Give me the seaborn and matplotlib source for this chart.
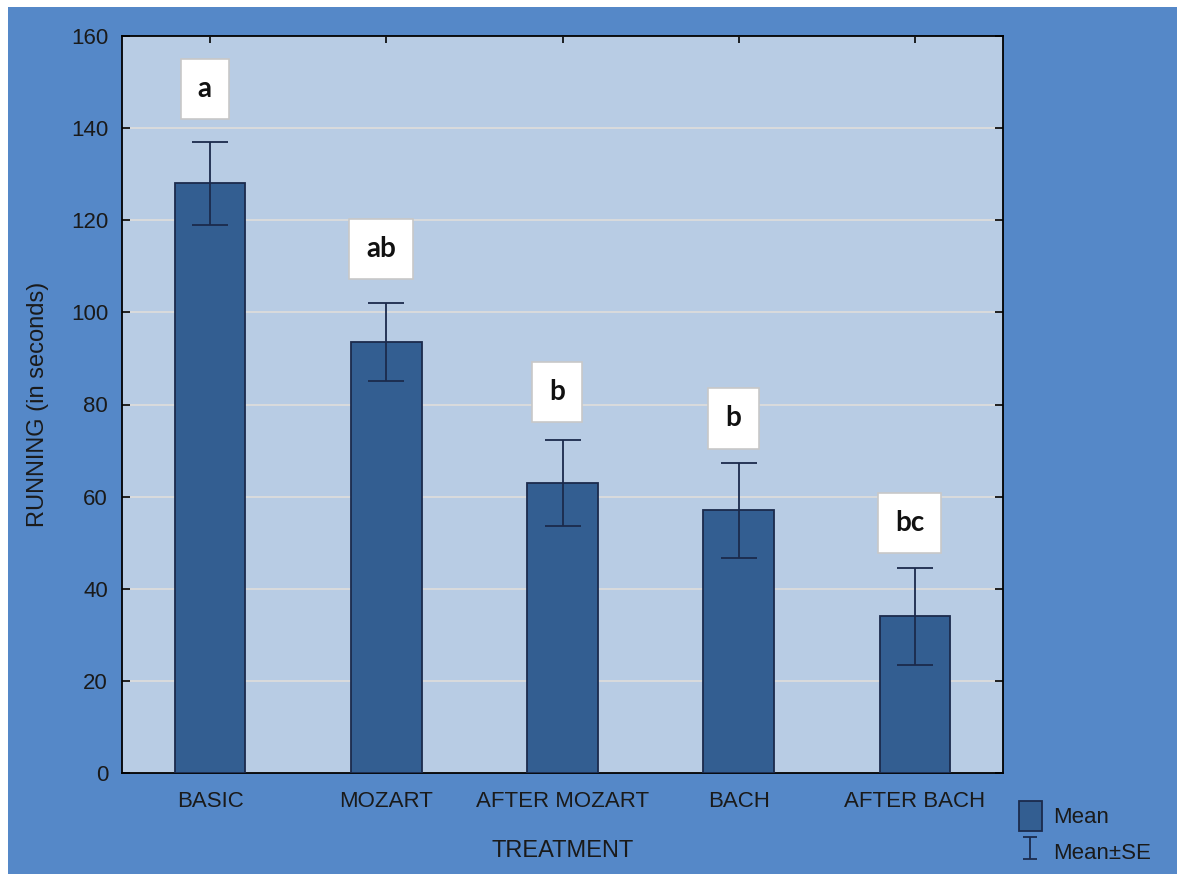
import numpy as np
import pandas as pd
import matplotlib
matplotlib.use('Agg')
import matplotlib.pyplot as plt
from matplotlib.patches import Rectangle
import seaborn as sns

# data
treatments = ['BASIC', 'MOZART', 'AFTER MOZART', 'BACH', 'AFTER BACH']
means = [128.0, 93.5, 63.0, 57.0, 34.0]
se = [9.0, 8.5, 9.3, 10.4, 10.6]
letters = ['a', 'ab', 'b', 'b', 'bc']
letter_y = [148.5, 113.8, 82.7, 77.0, 54.3]

outer_blue = '#5588C8'
panel = '#B8CCE4'
bar_col = '#335E91'
navy = '#1B2A4C'

sns.set_style('white')
plt.rcParams['font.family'] = ['Liberation Sans', 'DejaVu Sans']

df = pd.DataFrame({'TREATMENT': treatments, 'MEAN': means, 'SE': se})

fig = plt.figure(figsize=(11.77, 8.74), dpi=100, facecolor='white')
# blue background with thin white strip on top/left like the screenshot
fig.patches.append(Rectangle((8 / 1177, 0), 1 - 8 / 1177, 1 - 7 / 874,
                             transform=fig.transFigure, facecolor=outer_blue,
                             edgecolor='none', zorder=-10))
ax = fig.add_axes([122 / 1177, 1 - 773 / 874, (1003 - 122) / 1177, (773 - 36) / 874])
ax.set_facecolor(panel)

sns.barplot(data=df, x='TREATMENT', y='MEAN', color=bar_col, width=0.4,
            saturation=1, errorbar=None, edgecolor=navy, linewidth=1.3,
            ax=ax, zorder=3)
for p in ax.patches:
    p.set_facecolor(bar_col)

ax.errorbar(np.arange(len(treatments)), df['MEAN'], yerr=df['SE'], fmt='none',
            ecolor=navy, elinewidth=1.3, capsize=13, capthick=1.3, zorder=4)
# small-cap copy only for the legend symbol
eb_leg = ax.errorbar([np.nan], [np.nan], yerr=[1], fmt='none', ecolor=navy,
                     elinewidth=1.3, capsize=5, capthick=1.3)

for i, (t, yv) in enumerate(zip(letters, letter_y)):
    ax.text(i - 0.03, yv, t, ha='center', va='center', fontsize=20,
            fontweight='bold', family=['Lato', 'DejaVu Sans'], color='#111111', zorder=5,
            bbox=dict(boxstyle='square,pad=0.62', facecolor='white',
                      edgecolor='#C8C8C8', linewidth=1.2))

ax.set_ylim(0, 160)
ax.set_xlim(-0.5, 4.5)
ax.set_yticks(np.arange(0, 161, 20))
ax.yaxis.grid(True, color='#DCDCDC', linewidth=1.3, zorder=0)
ax.set_axisbelow(True)

ax.tick_params(axis='y', direction='in', length=6, width=1.2, color='black',
               left=True, right=True, labelsize=16, pad=10, labelcolor='#1a1a1a')
ax.tick_params(axis='x', direction='in', length=5, width=1.2, color='black',
               bottom=True, top=True, labelsize=16, pad=13, labelcolor='#1a1a1a')
for s in ax.spines.values():
    s.set_color('black')
    s.set_linewidth(1.3)

ax.set_xlabel('TREATMENT', fontsize=17, color='#1a1a1a', labelpad=20)
ax.set_ylabel('RUNNING (in seconds)', fontsize=17, color='#1a1a1a', labelpad=16)

bar_handle = Rectangle((0, 0), 1, 1, facecolor=bar_col, edgecolor=navy, linewidth=1.3)
leg = fig.legend([bar_handle, eb_leg], ['Mean', 'Mean\u00b1SE'], loc='lower left',
                 bbox_to_anchor=(1006 / 1177, -6 / 874), frameon=False,
                 fontsize=16, handlelength=1.0, handleheight=1.7,
                 handletextpad=0.5, labelspacing=0.25, borderpad=0.1)
for t in leg.get_texts():
    t.set_color('#1a1a1a')

fig.savefig('out.png', dpi=100, facecolor=fig.get_facecolor())
